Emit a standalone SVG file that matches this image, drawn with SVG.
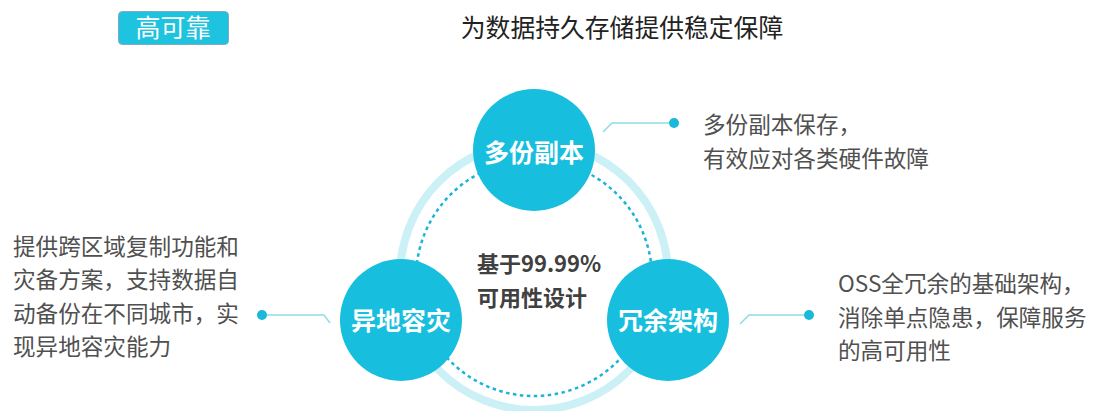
<svg xmlns="http://www.w3.org/2000/svg" width="1105" height="411" viewBox="0 0 1105 411">
<style>
.node{fill:#18bedd}
.nlabel{font-family:"Noto Sans CJK SC",sans-serif;font-weight:bold;font-size:25px;fill:#fff;text-anchor:middle}
.desc{font-family:"Noto Sans CJK SC",sans-serif;font-size:22.6px;fill:#505050}
.center{font-family:"Noto Sans CJK SC",sans-serif;font-weight:bold;font-size:22px;fill:#404040}
.callout{fill:none;stroke:#8fdcea;stroke-width:1.5}
.dot{fill:#1ab9d9}
</style>
<rect width="1105" height="411" fill="#fff"/>
<g id="badge">
<rect x="118.5" y="11.5" width="110" height="33" rx="4" fill="#1ec3df" stroke="#7fa9c0" stroke-width="1"/>
<text x="173" y="37" font-family="'Noto Sans CJK SC',sans-serif" font-size="25" fill="#fff" text-anchor="middle">高可靠</text>
</g>
<text id="title" x="622" y="37" font-family="'Noto Sans CJK SC',sans-serif" font-size="24.8" fill="#222" text-anchor="middle">为数据持久存储提供稳定保障</text>
<g id="rings">
<circle cx="534" cy="276" r="134" fill="none" stroke="#cbf0f6" stroke-width="8"/>
<circle cx="534" cy="278" r="118" fill="none" stroke="#1ab5d6" stroke-width="2.5" stroke-dasharray="3.5 3.5"/>
</g>
<g id="center-text">
<text class="center" x="477" y="272">基于99.99%</text>
<text class="center" x="477" y="306">可用性设计</text>
</g>
<g id="connectors">
<polyline class="callout" points="603,132 612,123 674,123"/>
<circle class="dot" cx="674" cy="123" r="5"/>
<polyline class="callout" points="262,315 324,315 330,323"/>
<circle class="dot" cx="262" cy="315" r="5"/>
<polyline class="callout" points="740,324 749,315 809,315"/>
<circle class="dot" cx="809" cy="315" r="5"/>
</g>
<g id="node-top">
<circle class="node" cx="534" cy="150" r="61"/>
<text class="nlabel" x="534" y="162">多份副本</text>
</g>
<g id="node-left">
<circle class="node" cx="401" cy="320" r="61"/>
<text class="nlabel" x="401" y="330">异地容灾</text>
</g>
<g id="node-right">
<circle class="node" cx="668" cy="320" r="61"/>
<text class="nlabel" x="668" y="330">冗余架构</text>
</g>
<g id="desc-top">
<text class="desc" x="703" y="133">多份副本保存，</text>
<text class="desc" x="703" y="167">有效应对各类硬件故障</text>
</g>
<g id="desc-left">
<text class="desc" x="13" y="255">提供跨区域复制功能和</text>
<text class="desc" x="13" y="288">灾备方案，支持数据自</text>
<text class="desc" x="13" y="322">动备份在不同城市，实</text>
<text class="desc" x="13" y="355">现异地容灾能力</text>
</g>
<g id="desc-right">
<text class="desc" x="838" y="292">OSS全冗余的基础架构，</text>
<text class="desc" x="838" y="326">消除单点隐患，保障服务</text>
<text class="desc" x="838" y="359">的高可用性</text>
</g>
</svg>
